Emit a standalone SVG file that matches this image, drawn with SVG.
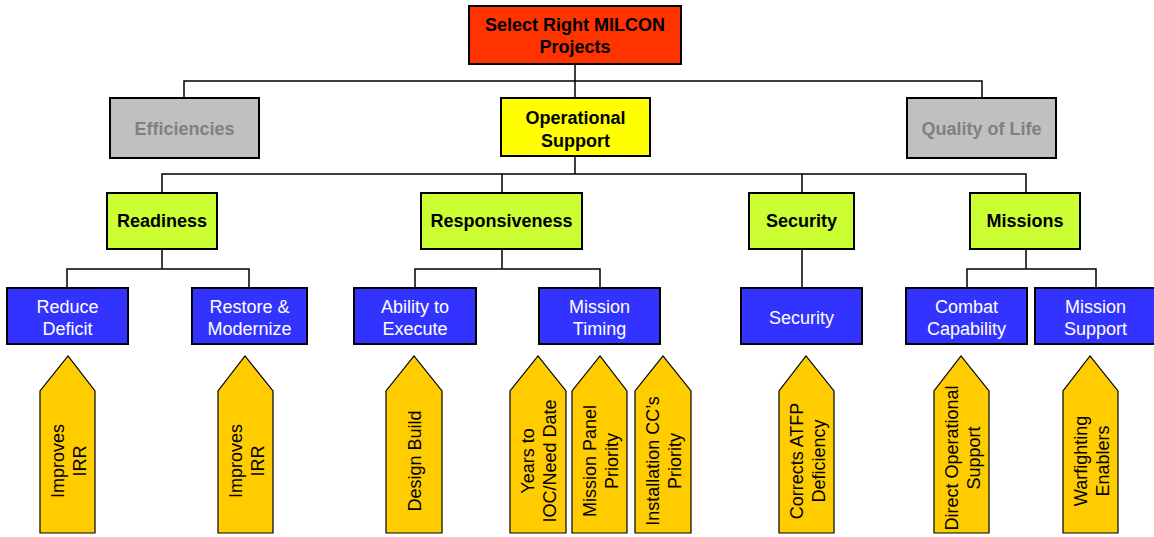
<svg xmlns="http://www.w3.org/2000/svg" width="1154" height="537" viewBox="0 0 1154 537">
<style>
text{font-family:"Liberation Sans",Arial,sans-serif;font-size:18px;text-anchor:middle}
.b{font-weight:bold}
.box{stroke:#000;stroke-width:2}
.red{fill:#FF3300}
.yel{fill:#FFFF00}
.gray{fill:#C0C0C0}
.grn{fill:#CCFF33}
.blu{fill:#3333FF}
.arr{fill:#FFCC00;stroke:#000;stroke-width:1.2}
.gt{fill:#808080}
.wt{fill:#FFFFFF}
.con{fill:none;stroke:#000;stroke-width:1.5}
</style>
<g id="connectors" class="con">
<path d="M575 64V98M575 156V174"/>
<path d="M184 98V81H982V98"/>
<path d="M162 193V174H1026V193M502 174V193M802 174V193"/>
<path d="M162 249V269M67 288V269H249V288"/>
<path d="M502 249V269M415 288V269H600V288"/>
<path d="M802 249V288"/>
<path d="M1026 249V269M967 288V269H1096V288"/>
</g>
<g id="n-top"><rect class="box red" x="469" y="6" width="212" height="58"/><text class="b" x="575" y="31">Select Right MILCON</text><text class="b" x="575" y="53">Projects</text></g>
<g id="n-eff"><rect class="box gray" x="110" y="98" width="149" height="60"/><text class="b gt" x="184.5" y="135">Efficiencies</text></g>
<g id="n-ops"><rect class="box yel" x="501" y="98" width="149" height="58"/><text class="b" x="575.5" y="124">Operational</text><text class="b" x="575.5" y="147">Support</text></g>
<g id="n-qol"><rect class="box gray" x="907" y="98" width="149" height="60"/><text class="b gt" x="981.5" y="135">Quality of Life</text></g>
<g id="n-ready"><rect class="box grn" x="107" y="193" width="110" height="56"/><text class="b" x="162" y="227">Readiness</text></g>
<g id="n-resp"><rect class="box grn" x="421" y="193" width="161" height="56"/><text class="b" x="501.5" y="227">Responsiveness</text></g>
<g id="n-sec"><rect class="box grn" x="749" y="193" width="105" height="56"/><text class="b" x="801.5" y="227">Security</text></g>
<g id="n-mis"><rect class="box grn" x="970" y="193" width="110" height="56"/><text class="b" x="1025" y="227">Missions</text></g>
<g id="n-rd"><rect class="box blu" x="7" y="288" width="121" height="56"/><text class="wt" x="67.5" y="313">Reduce</text><text class="wt" x="67.5" y="335">Deficit</text></g>
<g id="n-rm"><rect class="box blu" x="192" y="288" width="115" height="56"/><text class="wt" x="249.5" y="313">Restore &amp;</text><text class="wt" x="249.5" y="335">Modernize</text></g>
<g id="n-ae"><rect class="box blu" x="354" y="288" width="122" height="56"/><text class="wt" x="415" y="313">Ability to</text><text class="wt" x="415" y="335">Execute</text></g>
<g id="n-mt"><rect class="box blu" x="539" y="288" width="121" height="56"/><text class="wt" x="599.5" y="313">Mission</text><text class="wt" x="599.5" y="335">Timing</text></g>
<g id="n-s2"><rect class="box blu" x="741" y="288" width="121" height="56"/><text class="wt" x="801.5" y="324">Security</text></g>
<g id="n-cc"><rect class="box blu" x="906" y="288" width="121" height="56"/><text class="wt" x="966.5" y="313">Combat</text><text class="wt" x="966.5" y="335">Capability</text></g>
<g id="n-ms"><rect class="box blu" x="1035" y="288" width="121" height="56"/><text class="wt" x="1095.5" y="313">Mission</text><text class="wt" x="1095.5" y="335">Support</text></g>
<g id="a-irr1"><polygon class="arr" points="40,533 40,391 68,356 95,391 95,533"/><g transform="translate(67.5,461) rotate(-90)"><text y="-4">Improves</text><text y="18">IRR</text></g></g>
<g id="a-irr2"><polygon class="arr" points="218,533 218,391 245,356 273,391 273,533"/><g transform="translate(245.5,461) rotate(-90)"><text y="-4">Improves</text><text y="18">IRR</text></g></g>
<g id="a-db"><polygon class="arr" points="386,533 386,391 414,356 442,391 442,533"/><g transform="translate(414,461) rotate(-90)"><text y="7">Design Build</text></g></g>
<g id="a-yrs"><polygon class="arr" points="510,533 510,391 538,356 566,391 566,533"/><g transform="translate(538,461) rotate(-90)"><text y="-4">Years to</text><text y="18">IOC/Need Date</text></g></g>
<g id="a-mpp"><polygon class="arr" points="572,533 572,391 600,356 627,391 627,533"/><g transform="translate(599.5,461) rotate(-90)"><text y="-4">Mission Panel</text><text y="18">Priority</text></g></g>
<g id="a-icc"><polygon class="arr" points="635,533 635,391 663,356 691,391 691,533"/><g transform="translate(663,461) rotate(-90)"><text y="-4">Installation CC’s</text><text y="18">Priority</text></g></g>
<g id="a-atfp"><polygon class="arr" points="779,533 779,391 806,356 834,391 834,533"/><g transform="translate(806.5,461) rotate(-90)"><text y="-4">Corrects ATFP</text><text y="18">Deficiency</text></g></g>
<g id="a-dos"><polygon class="arr" points="934,533 934,391 961,356 989,391 989,533"/><g transform="translate(961.5,458) rotate(-90)"><text y="-4">Direct Operational</text><text y="18">Support</text></g></g>
<g id="a-wf"><polygon class="arr" points="1063,533 1063,391 1090,356 1118,391 1118,533"/><g transform="translate(1090.5,461) rotate(-90)"><text y="-4">Warfighting</text><text y="18">Enablers</text></g></g>
</svg>
